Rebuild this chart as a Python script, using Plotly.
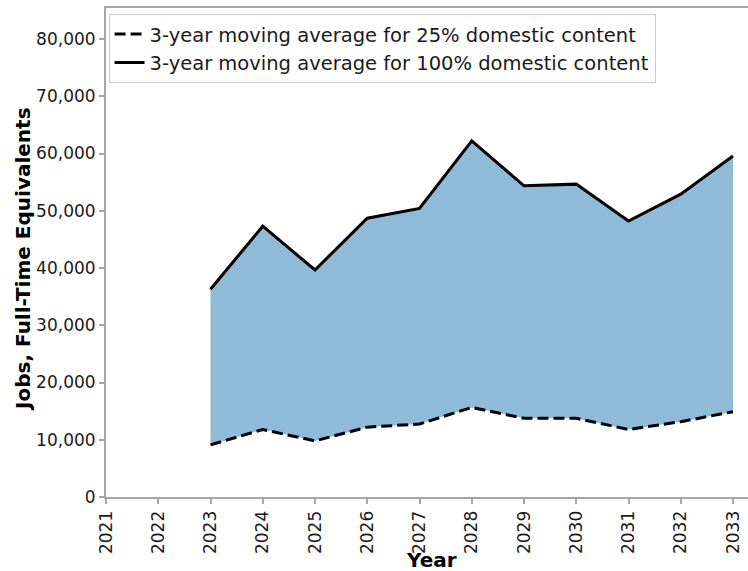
import plotly.graph_objects as go

# Years and 3-year moving averages of full-time-equivalent jobs
years = [2023, 2024, 2025, 2026, 2027, 2028, 2029, 2030, 2031, 2032, 2033]
jobs_25pct = [9100, 11800, 9800, 12200, 12750, 15650, 13750, 13750, 11800, 13150, 14900]
jobs_100pct = [36300, 47300, 39650, 48700, 50400, 62200, 54350, 54650, 48200, 52900, 59550]

x_ticks = list(range(2021, 2034))
y_ticks = list(range(0, 80001, 10000))

label_25 = "3-year moving average for 25% domestic content"
label_100 = "3-year moving average for 100% domestic content"

FONT = "DejaVu Sans"
SPINE = "#a6a6a6"
FILL = "rgba(31,119,180,0.5)"
TICK_FONT = dict(family=FONT, size=17, color="#1a1a1a")

fig = go.Figure()

# Shaded band between the two scenarios (no legend entries)
fig.add_trace(go.Scatter(x=years, y=jobs_25pct, mode="lines",
                         line=dict(width=0), showlegend=False, hoverinfo="skip"))
fig.add_trace(go.Scatter(x=years, y=jobs_100pct, mode="lines", fill="tonexty",
                         fillcolor=FILL, line=dict(width=0), showlegend=False,
                         hoverinfo="skip"))

# Outline lines
fig.add_trace(go.Scatter(x=years, y=jobs_25pct, mode="lines", name=label_25,
                         line=dict(color="black", width=3, dash="11px,5px")))
fig.add_trace(go.Scatter(x=years, y=jobs_100pct, mode="lines", name=label_100,
                         line=dict(color="black", width=3)))

W, H = 748, 571
left, top, bottom = 106, 8, 497
plot_w, plot_h = W - left, bottom - top
px_per_year = (733 - 106) / 12
x_max = 2021 + plot_w / px_per_year
px_per_unit = (497 - 39) / 80000
y_max = plot_h / px_per_unit

fig.update_layout(
    width=W, height=H,
    margin=dict(l=left, r=0, t=top, b=H - bottom, autoexpand=False),
    paper_bgcolor="white", plot_bgcolor="white",
    font=dict(family=FONT, size=17, color="#1a1a1a"),
    showlegend=True,
    legend=dict(
        x=0.004, y=0.988, xanchor="left", yanchor="top",
        traceorder="normal",
        bgcolor="rgba(255,255,255,0.85)", bordercolor="#cccccc", borderwidth=1,
        font=dict(family=FONT, size=19.5, color="#1a1a1a"),
        itemwidth=30, tracegroupgap=0,
    ),
    xaxis=dict(
        range=[2021, x_max], tickmode="array", tickvals=x_ticks,
        ticktext=[str(v) for v in x_ticks], tickangle=-90, tickfont=TICK_FONT,
        showgrid=False, zeroline=False, automargin=False,
        showline=True, linecolor=SPINE, linewidth=2, mirror=True,
        ticks="outside", ticklen=5, tickwidth=1.5, tickcolor=SPINE,
    ),
    yaxis=dict(
        range=[0, y_max], tickmode="array", tickvals=y_ticks, tickfont=TICK_FONT,
        tickformat=",", showgrid=False, zeroline=False, automargin=False,
        showline=True, linecolor=SPINE, linewidth=2,
        ticks="outside", ticklen=5, tickwidth=1.5, tickcolor=SPINE,
    ),
    annotations=[
        dict(text="<b>Year</b>", xref="paper", yref="paper",
             x=(432 - left) / plot_w, y=(bottom - 560) / plot_h,
             xanchor="center", yanchor="middle", showarrow=False,
             font=dict(family=FONT, size=20, color="black")),
        dict(text="<b>Jobs, Full-Time Equivalents</b>", xref="paper", yref="paper",
             x=(23 - left) / plot_w, y=(bottom - 259) / plot_h, textangle=-90,
             xanchor="center", yanchor="middle", showarrow=False,
             font=dict(family=FONT, size=20, color="black")),
    ],
)

fig.write_html("out.html")
